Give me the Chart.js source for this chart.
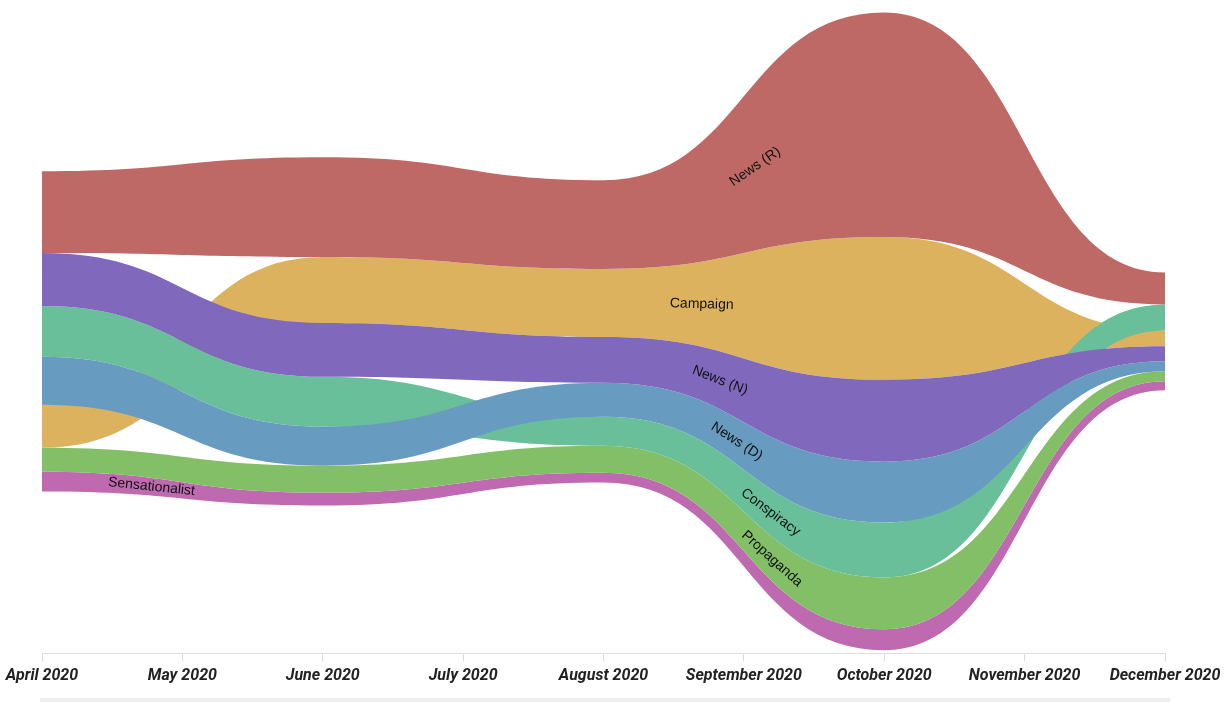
<!DOCTYPE html>
<html>
<head>
<meta charset="utf-8">
<script src="https://cdn.jsdelivr.net/npm/chart.js@4.4.0/dist/chart.umd.min.js"></script>
<style>
  html, body { margin: 0; padding: 0; background: #fff; }
  .wrap { position: relative; width: 1231px; height: 702px; }
  .scrollbar { position: absolute; left: 40px; top: 698px; width: 1130px; height: 4px; background: #eeeeee; }
</style>
</head>
<body>
<div class="wrap">
  <canvas id="chart"></canvas>
  <div class="scrollbar"></div>
</div>
<script>
// tick labels, one per month
const monthLabels = ['April 2020', 'May 2020', 'June 2020', 'July 2020', 'August 2020',
  'September 2020', 'October 2020', 'November 2020', 'December 2020'];

// data is sampled every two months (Apr, Jun, Aug, Oct, Dec)
const nodeMonths = [0, 2, 4, 6, 8];

const seriesNames = ['News (R)', 'Campaign', 'News (N)', 'Conspiracy', 'News (D)', 'Propaganda', 'Sensationalist'];

// series values at each node
const newsR = [82, 100, 89, 225, 32];
const campaign = [43, 66, 68, 143, 16];
const newsN = [53, 54, 46, 82, 15];
const conspiracy = [51, 50, 29, 55, 26];
const newsD = [48, 39, 34, 61, 10];
const propaganda = [24, 27, 27, 52, 10];
const sensationalist = [20, 13, 10, 21, 9];

// stacking order (top to bottom) at each node
const rankApril = ['News (R)', 'News (N)', 'Conspiracy', 'News (D)', 'Campaign', 'Propaganda', 'Sensationalist'];
const rankJune = ['News (R)', 'Campaign', 'News (N)', 'Conspiracy', 'News (D)', 'Propaganda', 'Sensationalist'];
const rankAugust = ['News (R)', 'Campaign', 'News (N)', 'News (D)', 'Conspiracy', 'Propaganda', 'Sensationalist'];
const rankOctober = ['News (R)', 'Campaign', 'News (N)', 'News (D)', 'Conspiracy', 'Propaganda', 'Sensationalist'];
const rankDecember = ['News (R)', 'Conspiracy', 'Campaign', 'News (N)', 'News (D)', 'Propaganda', 'Sensationalist'];

const valuesByName = {
  'News (R)': newsR,
  'Campaign': campaign,
  'News (N)': newsN,
  'Conspiracy': conspiracy,
  'News (D)': newsD,
  'Propaganda': propaganda,
  'Sensationalist': sensationalist,
};
const ranks = [rankApril, rankJune, rankAugust, rankOctober, rankDecember];

const colors = {
  'News (R)': '#bf6967',
  'Campaign': '#dcb25f',
  'News (N)': '#8069bd',
  'Conspiracy': '#68bf9a',
  'News (D)': '#689bc0',
  'Propaganda': '#82bf67',
  'Sensationalist': '#be69b0',
};

// which band is painted above which where they cross
const zOrder = ['News (R)', 'News (N)', 'News (D)', 'Conspiracy', 'Campaign', 'Propaganda', 'Sensationalist'];

// where along the x axis (month index) each band gets its name
const labelAt = {
  'News (R)': 5.08,
  'Campaign': 4.7,
  'News (N)': 4.83,
  'News (D)': 4.95,
  'Conspiracy': 5.19,
  'Propaganda': 5.2,
  'Sensationalist': 0.78,
};

const Y_MAX = 643;
const CENTER = 323;

// silhouette stacking around the centre line
const bounds = {};
seriesNames.forEach(n => { bounds[n] = { top: [], bottom: [] }; });
nodeMonths.forEach((m, i) => {
  const order = ranks[i];
  const total = order.reduce((s, n) => s + valuesByName[n][i], 0);
  let y = CENTER + total / 2;
  order.forEach(n => {
    bounds[n].top.push({ x: m, y: y });
    y -= valuesByName[n][i];
    bounds[n].bottom.push({ x: m, y: y });
  });
});

const datasets = [];
const topIndex = {};
seriesNames.forEach(name => {
  const z = zOrder.indexOf(name);
  topIndex[name] = datasets.length;
  datasets.push({
    label: name + ' top',
    data: bounds[name].top,
    order: z,
    fill: false,
    borderWidth: 0,
    pointRadius: 0,
    tension: 0.4,
  });
  datasets.push({
    label: name,
    data: bounds[name].bottom,
    order: z,
    fill: '-1',
    backgroundColor: colors[name],
    borderWidth: 0,
    pointRadius: 0,
    tension: 0.4,
  });
});

// horizontal-tangent (bump) curves between nodes
const bumpCurves = {
  id: 'bumpCurves',
  beforeDraw(chart) {
    chart.data.datasets.forEach((ds, i) => {
      const meta = chart.getDatasetMeta(i);
      const pts = meta.data;
      pts.forEach((p, k) => {
        const prev = pts[k - 1];
        const next = pts[k + 1];
        p.cp1x = prev ? (prev.x + p.x) / 2 : p.x;
        p.cp1y = p.y;
        p.cp2x = next ? (p.x + next.x) / 2 : p.x;
        p.cp2y = p.y;
      });
      if (meta.dataset) meta.dataset._pointsUpdated = true;
    });
  }
};

function bez(a, b, c, d, t) {
  const u = 1 - t;
  return u * u * u * a + 3 * u * u * t * b + 3 * u * t * t * c + t * t * t * d;
}

function bandPoint(pts, px) {
  let k = 0;
  while (k < pts.length - 2 && px > pts[k + 1].x) k++;
  const p0 = pts[k], p1 = pts[k + 1];
  const mx = (p0.x + p1.x) / 2;
  let lo = 0, hi = 1;
  for (let j = 0; j < 40; j++) {
    const mid = (lo + hi) / 2;
    if (bez(p0.x, mx, mx, p1.x, mid) < px) lo = mid; else hi = mid;
  }
  const t = (lo + hi) / 2;
  const y = bez(p0.y, p0.y, p1.y, p1.y, t);
  const dt = 0.001;
  const dx = bez(p0.x, mx, mx, p1.x, t + dt) - bez(p0.x, mx, mx, p1.x, t - dt);
  const dy = bez(p0.y, p0.y, p1.y, p1.y, t + dt) - bez(p0.y, p0.y, p1.y, p1.y, t - dt);
  return { y, dx, dy };
}

const bandNames = {
  id: 'bandNames',
  afterDatasetsDraw(chart) {
    const ctx = chart.ctx;
    const xScale = chart.scales.x;
    seriesNames.forEach(name => {
      const px = xScale.getPixelForValue(labelAt[name]);
      const topPts = chart.getDatasetMeta(topIndex[name]).data;
      const botPts = chart.getDatasetMeta(topIndex[name] + 1).data;
      const a = bandPoint(topPts, px);
      const b = bandPoint(botPts, px);
      const y = (a.y + b.y) / 2;
      const angle = Math.atan2((a.dy + b.dy) / 2, a.dx);
      ctx.save();
      ctx.translate(px, y);
      ctx.rotate(angle);
      ctx.font = '14px "Liberation Sans", Arial, sans-serif';
      ctx.fillStyle = '#111';
      ctx.textAlign = 'center';
      ctx.textBaseline = 'middle';
      ctx.fillText(name, 0, 0);
      ctx.restore();
    });
  }
};

new Chart(document.getElementById('chart'), {
  type: 'line',
  data: { datasets },
  options: {
    responsive: true,
    maintainAspectRatio: false,
    animation: false,
    events: [],
    layout: { padding: { left: 42, right: 66, top: 12, bottom: 11 } },
    plugins: {
      legend: { display: false },
      tooltip: { enabled: false },
    },
    scales: {
      x: {
        type: 'linear',
        min: 0,
        max: 8,
        border: { display: true, color: '#dddddd' },
        grid: { drawOnChartArea: false, drawTicks: true, tickLength: 8, color: '#dddddd' },
        ticks: {
          stepSize: 1,
          autoSkip: false,
          maxRotation: 0,
          padding: 5,
          color: '#222',
          font: { family: 'Roboto', size: 16, weight: 'bold', style: 'italic' },
          callback: v => monthLabels[v],
        },
      },
      y: {
        display: false,
        min: 0,
        max: Y_MAX,
      },
    },
  },
  plugins: [bumpCurves, bandNames],
});
</script>
</body>
</html>
